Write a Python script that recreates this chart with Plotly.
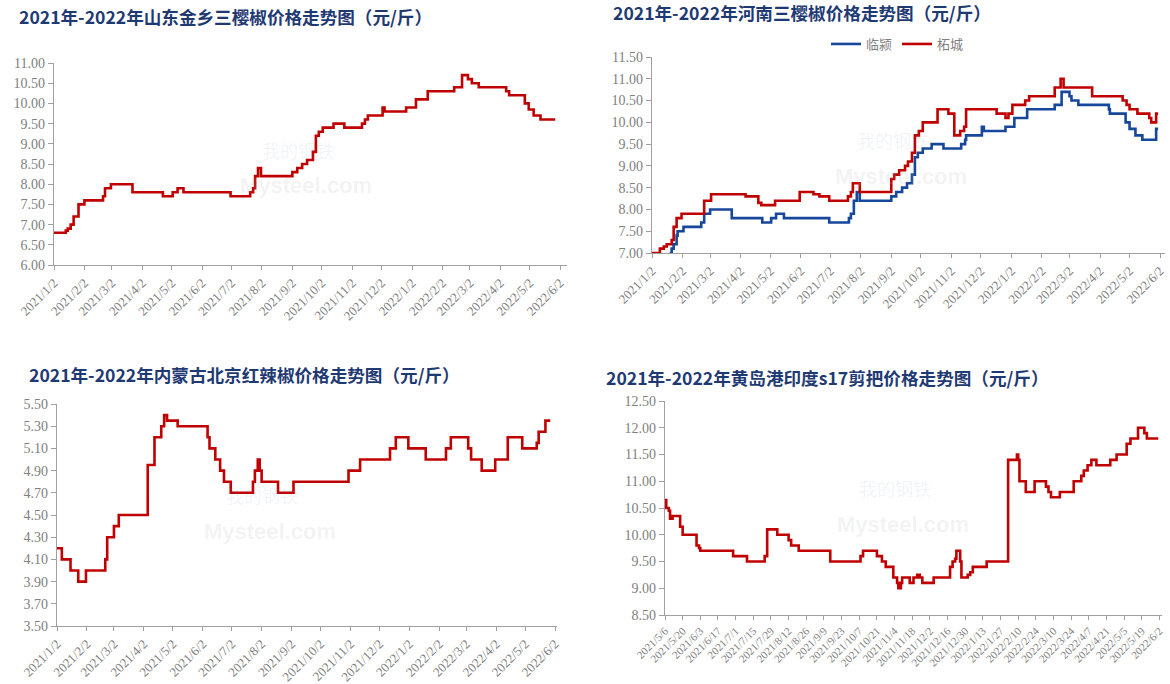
import plotly.graph_objects as go

W, H = 1170, 684

# ---------------- data ----------------
titles = [
    "2021年-2022年山东金乡三樱椒价格走势图（元/斤）",
    "2021年-2022年河南三樱椒价格走势图（元/斤）",
    "2021年-2022年内蒙古北京红辣椒价格走势图（元/斤）",
    "2021年-2022年黄岛港印度s17剪把价格走势图（元/斤）",
]

jx_dates = ["2021-01-02", "2021-01-14", "2021-01-16", "2021-01-19", "2021-01-22", "2021-01-27",
            "2021-02-02", "2021-02-21", "2021-02-23", "2021-03-01", "2021-03-23", "2021-04-23",
            "2021-05-03", "2021-05-08", "2021-05-14", "2021-07-01", "2021-07-21", "2021-07-24",
            "2021-07-26", "2021-07-29", "2021-08-01", "2021-09-02", "2021-09-07", "2021-09-12",
            "2021-09-17", "2021-09-23", "2021-09-26", "2021-09-29", "2021-10-03", "2021-10-14",
            "2021-10-25", "2021-11-12", "2021-11-15", "2021-11-18", "2021-12-03", "2021-12-05",
            "2021-12-27", "2022-01-06", "2022-01-18", "2022-02-14", "2022-02-22", "2022-02-28",
            "2022-03-04", "2022-03-11", "2022-04-08", "2022-04-11", "2022-04-27", "2022-05-01",
            "2022-05-06", "2022-05-13", "2022-05-28"]
jx_values = [6.80, 6.85, 6.90, 7.00, 7.20, 7.50,
             7.60, 7.70, 7.90, 8.00, 7.80, 7.70,
             7.80, 7.90, 7.80, 7.70, 7.80, 7.90,
             8.20, 8.40, 8.20, 8.30, 8.40, 8.50,
             8.60, 8.80, 9.20, 9.30, 9.40, 9.50,
             9.40, 9.50, 9.60, 9.70, 9.90, 9.80,
             9.90, 10.10, 10.30, 10.40, 10.70, 10.60,
             10.50, 10.40, 10.30, 10.20, 10.00, 9.85,
             9.70, 9.60, 9.60]

ly_dates = ["2021-01-20", "2021-01-22", "2021-01-24", "2021-01-27", "2021-01-28", "2021-02-03",
            "2021-02-21", "2021-02-24", "2021-03-02", "2021-03-24", "2021-04-24", "2021-05-03",
            "2021-05-08", "2021-05-16", "2021-07-01", "2021-07-21", "2021-07-23", "2021-07-26",
            "2021-07-29", "2021-08-01", "2021-09-02", "2021-09-07", "2021-09-13", "2021-09-18",
            "2021-09-23", "2021-09-26", "2021-09-29", "2021-10-04", "2021-10-13", "2021-10-25",
            "2021-11-12", "2021-11-16", "2021-11-17", "2021-12-03", "2021-12-05", "2021-12-27",
            "2022-01-05", "2022-01-18", "2022-02-15", "2022-02-22", "2022-03-02", "2022-03-04",
            "2022-03-11", "2022-04-11", "2022-04-12", "2022-04-28", "2022-05-02", "2022-05-08",
            "2022-05-15", "2022-05-29", "2022-05-31"]
ly_values = [7.00, 7.10, 7.20, 7.40, 7.50, 7.60,
             7.70, 7.90, 8.00, 7.80, 7.70, 7.80,
             7.90, 7.80, 7.70, 7.80, 7.90, 8.20,
             8.40, 8.20, 8.30, 8.40, 8.50, 8.60,
             8.80, 9.20, 9.30, 9.40, 9.50, 9.40,
             9.50, 9.60, 9.70, 9.90, 9.80, 9.90,
             10.10, 10.30, 10.40, 10.70, 10.60, 10.50,
             10.40, 10.30, 10.20, 10.00, 9.85, 9.70,
             9.60, 9.85, 9.85]

zc_dates = ["2021-01-02", "2021-01-10", "2021-01-14", "2021-01-17", "2021-01-22", "2021-01-24",
            "2021-01-27", "2021-02-01", "2021-02-24", "2021-03-03", "2021-04-07", "2021-04-20",
            "2021-04-23", "2021-05-07", "2021-06-01", "2021-06-15", "2021-06-21", "2021-07-01",
            "2021-07-20", "2021-07-23", "2021-07-25", "2021-08-01", "2021-09-02", "2021-09-05",
            "2021-09-10", "2021-09-16", "2021-09-19", "2021-09-23", "2021-09-26", "2021-09-30",
            "2021-10-04", "2021-10-19", "2021-10-30", "2021-11-05", "2021-11-11", "2021-11-15",
            "2021-11-17", "2021-12-18", "2021-12-27", "2021-12-30", "2022-01-03", "2022-01-16",
            "2022-01-20", "2022-02-15", "2022-02-21", "2022-02-24", "2022-03-25", "2022-04-25",
            "2022-04-29", "2022-05-02", "2022-05-10", "2022-05-22", "2022-05-24", "2022-05-29",
            "2022-05-31"]
zc_values = [7.00, 7.10, 7.15, 7.20, 7.30, 7.60,
             7.80, 7.90, 8.20, 8.35, 8.30, 8.15,
             8.10, 8.20, 8.40, 8.35, 8.30, 8.20,
             8.30, 8.40, 8.60, 8.40, 8.70, 8.80,
             8.90, 9.00, 9.10, 9.30, 9.70, 9.80,
             10.00, 10.30, 10.20, 9.70, 9.80, 9.90,
             10.30, 10.20, 10.10, 10.20, 10.40, 10.50,
             10.60, 10.80, 11.00, 10.80, 10.60, 10.50,
             10.40, 10.30, 10.20, 10.10, 10.00, 10.20,
             10.20]

nm_dates = ["2021-01-02", "2021-01-07", "2021-01-16", "2021-01-24", "2021-02-01", "2021-02-21",
            "2021-02-23", "2021-03-02", "2021-03-07", "2021-04-06", "2021-04-13", "2021-04-20",
            "2021-04-23", "2021-04-26", "2021-05-07", "2021-06-07", "2021-06-09", "2021-06-15",
            "2021-06-20", "2021-06-24", "2021-07-01", "2021-07-24", "2021-07-26", "2021-07-29",
            "2021-07-31", "2021-08-02", "2021-08-19", "2021-09-04", "2021-10-31", "2021-11-12",
            "2021-12-13", "2021-12-19", "2022-01-01", "2022-01-19", "2022-02-09", "2022-02-14",
            "2022-03-04", "2022-03-07", "2022-03-18", "2022-04-01", "2022-04-14", "2022-04-29",
            "2022-05-14", "2022-05-16", "2022-05-23", "2022-05-28"]
nm_values = [4.20, 4.10, 4.00, 3.90, 4.00, 4.10,
             4.30, 4.40, 4.50, 4.95, 5.20, 5.30,
             5.40, 5.35, 5.30, 5.20, 5.10, 5.00,
             4.90, 4.80, 4.70, 4.80, 4.90, 5.00,
             4.90, 4.80, 4.70, 4.80, 4.90, 5.00,
             5.10, 5.20, 5.10, 5.00, 5.10, 5.20,
             5.10, 5.00, 4.90, 5.00, 5.20, 5.10,
             5.15, 5.25, 5.35, 5.35]

hd_dates = ["2021-05-06", "2021-05-07", "2021-05-09", "2021-05-10", "2021-05-12", "2021-05-18",
            "2021-05-20", "2021-05-31", "2021-06-02", "2021-06-03", "2021-06-29", "2021-07-10",
            "2021-07-24", "2021-07-26", "2021-08-03", "2021-08-12", "2021-08-14", "2021-08-20",
            "2021-09-14", "2021-10-08", "2021-10-10", "2021-10-21", "2021-10-25", "2021-10-28",
            "2021-11-03", "2021-11-06", "2021-11-07", "2021-11-09", "2021-11-10", "2021-11-16",
            "2021-11-19", "2021-11-22", "2021-11-24", "2021-11-26", "2021-12-05", "2021-12-18",
            "2021-12-20", "2021-12-22", "2021-12-23", "2021-12-26", "2021-12-27", "2022-01-01",
            "2022-01-03", "2022-01-05", "2022-01-16", "2022-02-02", "2022-02-09", "2022-02-10",
            "2022-02-11", "2022-02-16", "2022-02-23", "2022-03-04", "2022-03-06", "2022-03-08",
            "2022-03-15", "2022-03-26", "2022-04-01", "2022-04-03", "2022-04-06", "2022-04-09",
            "2022-04-13", "2022-04-24", "2022-04-29", "2022-05-07", "2022-05-10", "2022-05-16",
            "2022-05-21", "2022-05-23", "2022-06-01"]
hd_values = [10.65, 10.50, 10.45, 10.30, 10.35, 10.15,
             10.00, 9.80, 9.75, 9.70, 9.60, 9.50,
             9.60, 10.10, 10.00, 9.90, 9.80, 9.70,
             9.50, 9.60, 9.70, 9.60, 9.50, 9.40,
             9.20, 9.10, 9.00, 9.10, 9.20, 9.10,
             9.20, 9.25, 9.20, 9.10, 9.20, 9.40,
             9.50, 9.55, 9.70, 9.50, 9.20, 9.25,
             9.30, 9.40, 9.50, 11.40, 11.50, 11.40,
             11.00, 10.80, 11.00, 10.90, 10.80, 10.70,
             10.80, 11.00, 11.10, 11.20, 11.30, 11.40,
             11.30, 11.40, 11.50, 11.70, 11.80, 12.00,
             11.90, 11.80, 11.80]

month_ticks = ["2021-01-02", "2021-02-02", "2021-03-02", "2021-04-02", "2021-05-02", "2021-06-02",
               "2021-07-02", "2021-08-02", "2021-09-02", "2021-10-02", "2021-11-02", "2021-12-02",
               "2022-01-02", "2022-02-02", "2022-03-02", "2022-04-02", "2022-05-02", "2022-06-02"]
month_labels = ["2021/1/2", "2021/2/2", "2021/3/2", "2021/4/2", "2021/5/2", "2021/6/2",
                "2021/7/2", "2021/8/2", "2021/9/2", "2021/10/2", "2021/11/2", "2021/12/2",
                "2022/1/2", "2022/2/2", "2022/3/2", "2022/4/2", "2022/5/2", "2022/6/2"]

week_ticks = ["2021-05-06", "2021-05-20", "2021-06-03", "2021-06-17", "2021-07-01", "2021-07-15",
              "2021-07-29", "2021-08-12", "2021-08-26", "2021-09-09", "2021-09-23", "2021-10-07",
              "2021-10-21", "2021-11-04", "2021-11-18", "2021-12-02", "2021-12-16", "2021-12-30",
              "2022-01-13", "2022-01-27", "2022-02-10", "2022-02-24", "2022-03-10", "2022-03-24",
              "2022-04-07", "2022-04-21", "2022-05-05", "2022-05-19", "2022-06-02"]
week_labels = ["2021/5/6", "2021/5/20", "2021/6/3", "2021/6/17", "2021/7/1", "2021/7/15",
               "2021/7/29", "2021/8/12", "2021/8/26", "2021/9/9", "2021/9/23", "2021/10/7",
               "2021/10/21", "2021/11/4", "2021/11/18", "2021/12/2", "2021/12/16", "2021/12/30",
               "2022/1/13", "2022/1/27", "2022/2/10", "2022/2/24", "2022/3/10", "2022/3/24",
               "2022/4/7", "2022/4/21", "2022/5/5", "2022/5/19", "2022/6/2"]

# ---------------- style ----------------
RED = "#C00000"
BLUE = "#17479A"
AXIS = "#A0A0A0"
TICKC = "#808080"
TITLEC = "#1F3A73"
SERIF = "Liberation Serif"
CJK = "Noto Sans CJK SC"

def px_x(p):
    return p / W

def px_y(p):
    return 1 - p / H

fig = go.Figure()

def line(x, y, color, xa, ya, name=None, show=False):
    fig.add_trace(go.Scatter(x=x, y=y, mode="lines", line=dict(color=color, width=2.6, shape="hv"),
                             xaxis=xa, yaxis=ya, name=name, showlegend=show, hoverinfo="x+y"))

line(jx_dates, jx_values, RED, "x", "y")
line(ly_dates, ly_values, BLUE, "x2", "y2", "临颍", True)
line(zc_dates, zc_values, RED, "x2", "y2", "柘城", True)
line(nm_dates, nm_values, RED, "x3", "y3")
line(hd_dates, hd_values, RED, "x4", "y4")

def xaxis(domain, rng, tv, tt, size, anchor):
    return dict(domain=domain, range=rng, type="date", tickmode="array", tickvals=tv, ticktext=tt,
                tickangle=-45, showline=True, linecolor=AXIS, linewidth=1.3, ticks="outside",
                ticklen=4, tickcolor=AXIS, showgrid=False, zeroline=False, anchor=anchor,
                automargin=False, tickfont=dict(family=SERIF, size=size, color=TICKC))

def yaxis(domain, rng, dtick, anchor):
    return dict(domain=domain, range=rng, tickmode="linear", tick0=rng[0], dtick=dtick,
                tickformat=".2f", showline=True, linecolor=AXIS, linewidth=1.3, ticks="outside",
                ticklen=5, tickcolor=AXIS, showgrid=False, zeroline=False, anchor=anchor,
                automargin=False, tickfont=dict(family=SERIF, size=14, color=TICKC))

layout = dict(
    template="none",
    width=W, height=H, margin=dict(l=0, r=0, t=0, b=0, autoexpand=False),
    paper_bgcolor="white", plot_bgcolor="white",
    xaxis=xaxis([px_x(54), px_x(567)], ["2021-01-02", "2022-06-09"], month_ticks, month_labels, 13, "y"),
    yaxis=yaxis([px_y(265), px_y(63)], [6, 11], 0.5, "x"),
    xaxis2=xaxis([px_x(652), px_x(1165)], ["2021-01-02", "2022-06-07"], month_ticks, month_labels, 13, "y2"),
    yaxis2=yaxis([px_y(253), px_y(57)], [7, 11.5], 0.5, "x2"),
    xaxis3=xaxis([px_x(57), px_x(557)], ["2021-01-02", "2022-06-04"], month_ticks, month_labels, 13, "y3"),
    yaxis3=yaxis([px_y(626), px_y(404)], [3.5, 5.5], 0.2, "x3"),
    xaxis4=xaxis([px_x(665), px_x(1162)], ["2021-05-06", "2022-06-04"], week_ticks, week_labels, 11, "y4"),
    yaxis4=yaxis([px_y(615), px_y(401)], [8.5, 12.5], 0.5, "x4"),
    legend=dict(orientation="h", x=px_x(826), y=px_y(44), xanchor="left", yanchor="middle",
                font=dict(family=CJK, size=13, color="#7F7F7F"), bgcolor="rgba(0,0,0,0)",
                itemwidth=30, tracegroupgap=0),
)
fig.update_layout(**layout)

title_pos = [(17, 16), (611, 13), (27, 374), (604, 377)]
for t, (tx, ty) in zip(titles, title_pos):
    fig.add_annotation(text="<b>" + t + "</b>", xref="paper", yref="paper", x=px_x(tx), y=px_y(ty),
                       xanchor="left", yanchor="middle", showarrow=False,
                       font=dict(family=CJK, size=17.6, color=TITLEC))

# faint watermarks
wm_pos = [(298, 150), (893, 140), (262, 495), (895, 488)]
for wx, wy in wm_pos:
    fig.add_annotation(text="我的钢铁", xref="paper", yref="paper", x=px_x(wx), y=px_y(wy),
                       xanchor="center", yanchor="middle", showarrow=False,
                       font=dict(family=CJK, size=18, color="rgba(120,140,200,0.10)"))
    fig.add_annotation(text="<b>Mysteel.com</b>", xref="paper", yref="paper", x=px_x(wx + 8), y=px_y(wy + 36),
                       xanchor="center", yanchor="middle", showarrow=False,
                       font=dict(family="Liberation Sans", size=22, color="rgba(180,180,180,0.16)"))

fig.write_html("out.html", config={"displayModeBar": False},
               post_script="document.body.style.margin='0';document.body.style.overflow='hidden';")
